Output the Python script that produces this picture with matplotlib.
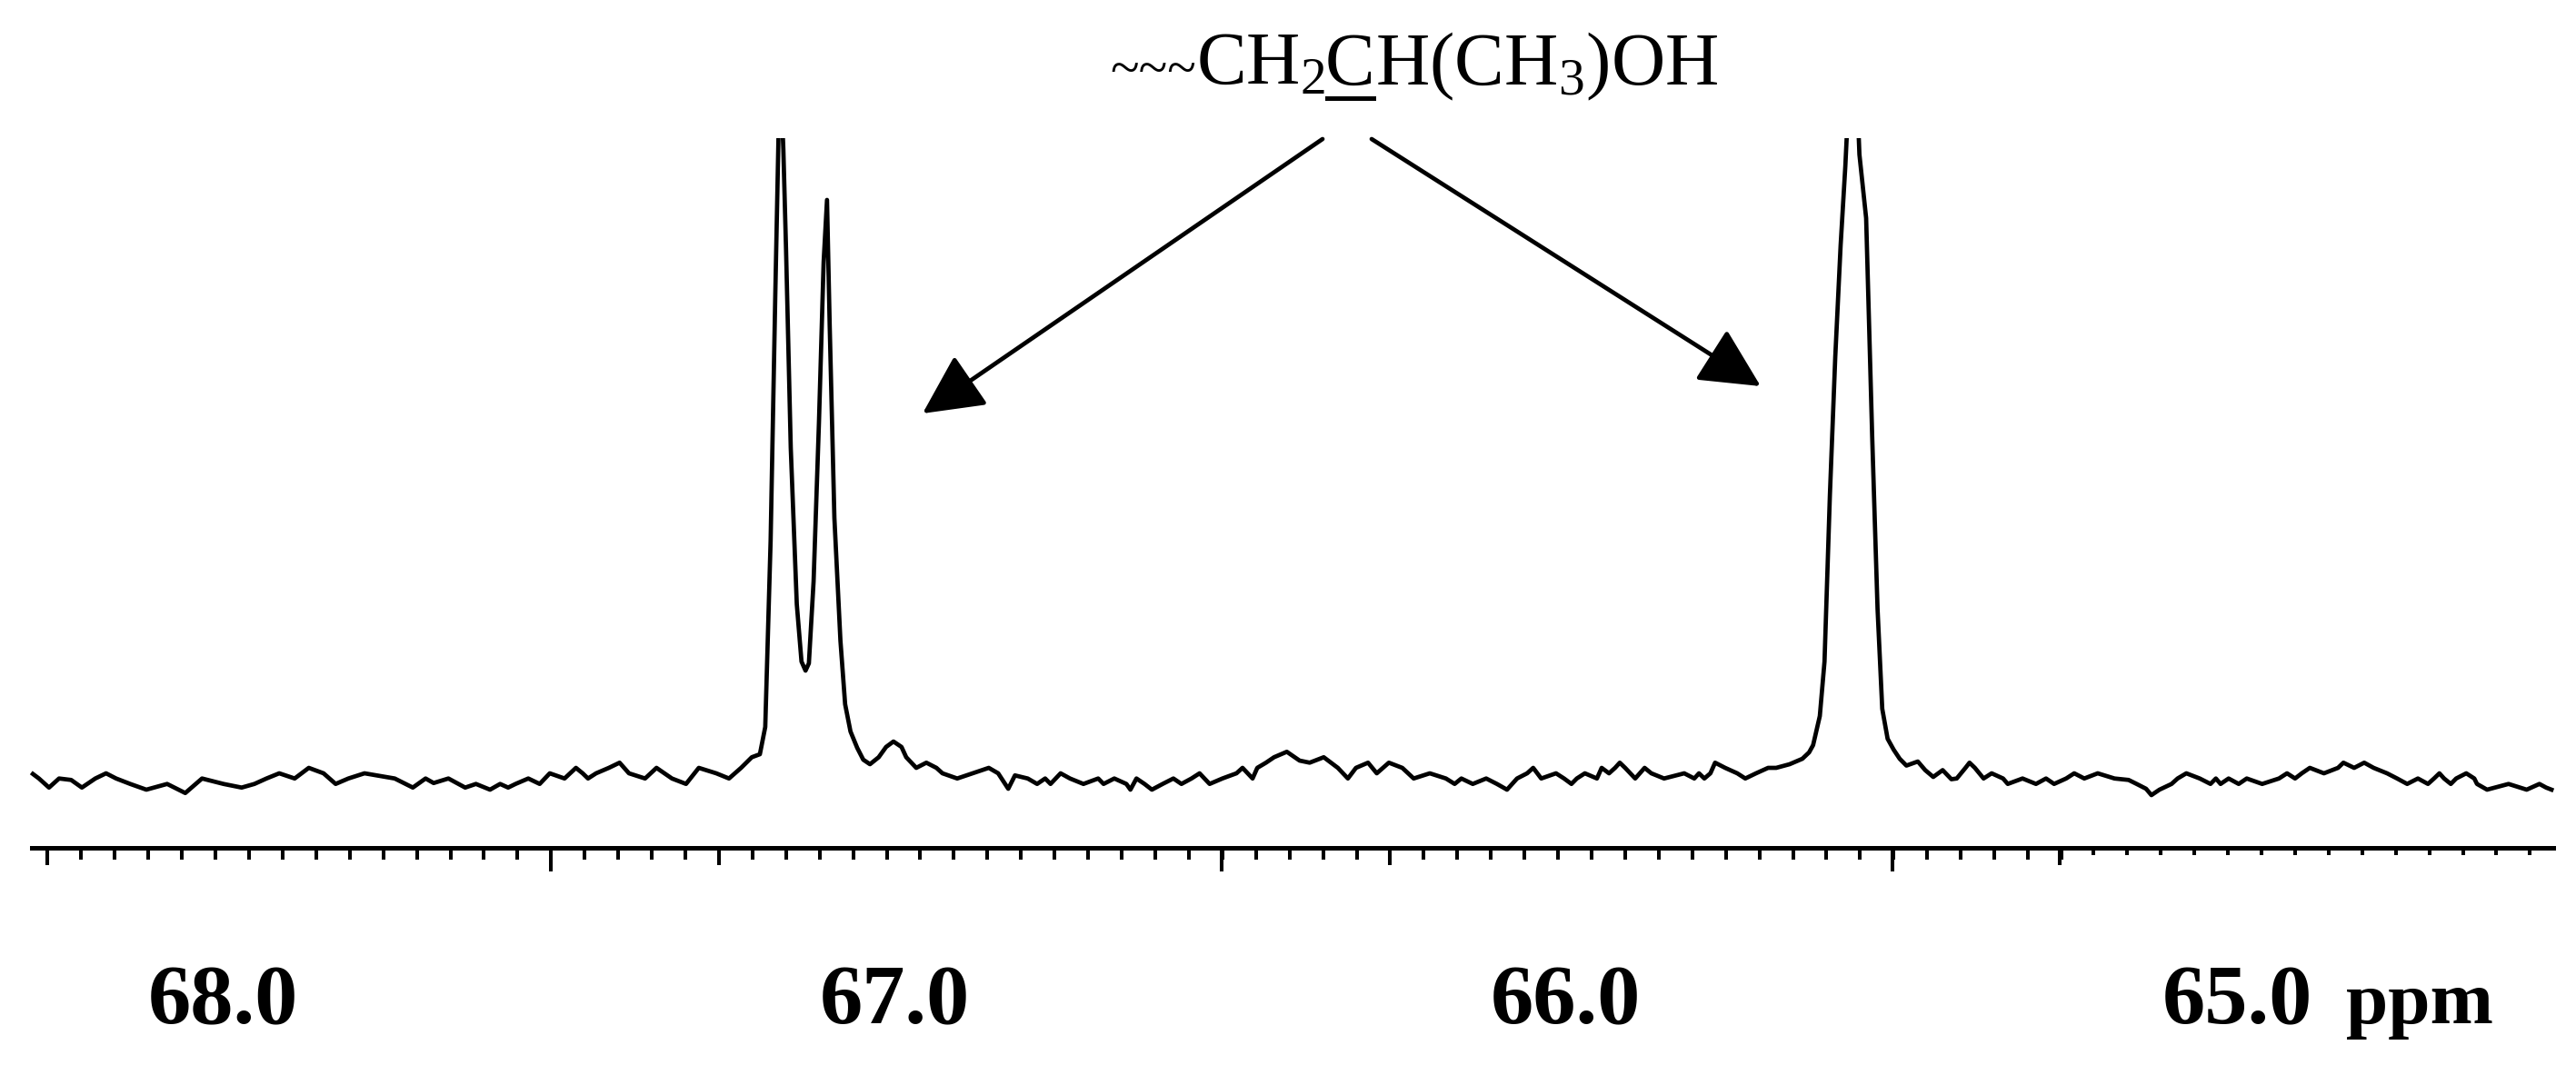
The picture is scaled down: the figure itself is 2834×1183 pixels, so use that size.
import numpy as np
import matplotlib
matplotlib.use('Agg')
import matplotlib.pyplot as plt
from matplotlib import transforms
from matplotlib.lines import Line2D

plt.rcParams['font.family'] = ['Liberation Serif', 'DejaVu Serif']
plt.rcParams['mathtext.fontset'] = 'custom'
plt.rcParams['mathtext.rm'] = 'Liberation Serif'
plt.rcParams['mathtext.it'] = 'Liberation Serif:italic'
plt.rcParams['mathtext.bf'] = 'Liberation Serif:bold'

# 13C spectrum: chemical shift (ppm) and intensity (arb. units)
shift_ppm = [
    68.284, 68.275, 68.260, 68.245, 68.227, 68.211, 68.191, 68.175, 68.160, 68.139,
    68.115, 68.084, 68.057, 68.032, 68.000, 67.973, 67.954, 67.936, 67.917, 67.894,
    67.873, 67.851, 67.833, 67.814, 67.790, 67.745, 67.718, 67.699, 67.687, 67.665,
    67.640, 67.624, 67.603, 67.588, 67.576, 67.565, 67.546, 67.529, 67.514, 67.492,
    67.475, 67.465, 67.457, 67.445, 67.426, 67.410, 67.396, 67.372, 67.355, 67.332,
    67.311, 67.292, 67.266, 67.247, 67.229, 67.213, 67.201, 67.193, 67.185, 67.178,
    67.171, 67.166, 67.162, 67.155, 67.146, 67.139, 67.133, 67.128, 67.121, 67.113,
    67.106, 67.101, 67.097, 67.090, 67.081, 67.074, 67.066, 67.056, 67.047, 67.037,
    67.024, 67.013, 67.002, 66.990, 66.983, 66.968, 66.953, 66.938, 66.929, 66.907,
    66.884, 66.860, 66.846, 66.831, 66.821, 66.802, 66.788, 66.776, 66.768, 66.753,
    66.739, 66.719, 66.697, 66.689, 66.673, 66.655, 66.649, 66.640, 66.628, 66.617,
    66.601, 66.585, 66.573, 66.558, 66.546, 66.531, 66.512, 66.491, 66.482, 66.467,
    66.460, 66.447, 66.435, 66.416, 66.397, 66.382, 66.361, 66.340, 66.325, 66.313,
    66.295, 66.282, 66.264, 66.244, 66.227, 66.203, 66.179, 66.166, 66.156, 66.139,
    66.119, 66.103, 66.088, 66.073, 66.058, 66.049, 66.037, 66.015, 66.003, 65.992,
    65.984, 65.972, 65.954, 65.947, 65.936, 65.927, 65.920, 65.912, 65.897, 65.883,
    65.873, 65.854, 65.824, 65.809, 65.802, 65.794, 65.785, 65.778, 65.763, 65.745,
    65.733, 65.717, 65.699, 65.687, 65.667, 65.648, 65.638, 65.632, 65.622, 65.615,
    65.607, 65.599, 65.591, 65.584, 65.572, 65.563, 65.553, 65.544, 65.536, 65.529,
    65.521, 65.512, 65.503, 65.493, 65.476, 65.465, 65.453, 65.439, 65.426, 65.418,
    65.405, 65.399, 65.391, 65.378, 65.366, 65.349, 65.342, 65.320, 65.300, 65.285,
    65.273, 65.255, 65.243, 65.228, 65.208, 65.183, 65.162, 65.150, 65.136, 65.128,
    65.116, 65.098, 65.089, 65.076, 65.056, 65.040, 65.032, 65.025, 65.013, 64.998,
    64.986, 64.963, 64.938, 64.926, 64.914, 64.904, 64.892, 64.871, 64.850, 64.842,
    64.826, 64.811, 64.797, 64.777, 64.762, 64.747, 64.731, 64.716, 64.707, 64.699,
    64.692, 64.682, 64.674, 64.659, 64.647, 64.643, 64.628, 64.596, 64.569, 64.550,
    64.540, 64.532,
]
intensity = [
    6.3, 1.3, -8.7, 1.3, -0.3, -8.7, 1.3, 7, 1.3, -4.7,
    -11, -4.7, -14.7, 1.3, -4.7, -8.7, -4.7, 1.3, 7, 1.3,
    13, 7, -4.7, 1.3, 7, 1.3, -8.7, 1.3, -3.7, 1.3,
    -8.7, -4.7, -11, -4.7, -8.7, -4.7, 1.3, -4.7, 7, 1.3,
    13, 7, 1.3, 7, 13, 18.7, 7, 1.3, 13, 1.3,
    -4.7, 13, 7, 1.3, 13, 24.7, 28, 58, 263, 535,
    790, 693, 583, 365, 193, 130, 120, 128, 218, 393,
    570, 638, 500, 288, 153, 83, 53, 35, 22, 17,
    24.7, 36, 42, 36, 24.7, 13, 18.7, 13, 7, 1.3,
    7, 13, 7, -10, 4.7, 1.3, -4.7, 1.3, -4.7, 7,
    1.3, -4.7, 1.3, -4.7, 1.3, -4.7, -11, 1.3, -4.7, -11,
    -4.7, 1.3, -4.7, 1.3, 7, -4.7, 1.3, 7, 13, 1.3,
    13, 18.7, 24.7, 30.7, 21, 18.7, 24.7, 13, 1.3, 13,
    18.7, 7, 18.7, 13, 1.3, 7, 1.3, -4.7, 1.3, -4.7,
    1.3, -4.7, -11, 1.3, 7, 13, 1.3, 7, 1.3, -4.7,
    1.3, 7, 1.3, 13, 7, 13, 18.7, 13, 1.3, 13,
    7, 1.3, 7, 1.3, 7, 1.3, 7, 18.7, 13, 7,
    1.3, 7, 13, 13, 17, 23, 30, 38, 70, 130,
    313, 465, 588, 675, 860, 688, 618, 378, 188, 78,
    45, 33, 23, 15.5, 20, 10.5, 3, 10.5, 0.5, 1.3,
    13, 18.7, 13, 1.3, 7, 1.3, -4.7, 1.3, -4.7, 1.3,
    -4.7, 1.3, 7, 1.3, 7, 1.3, -0.3, -4.7, -10, -17,
    -11, -4.7, 1.3, 7, 1.3, -4.7, 1.3, -4.7, 1.3, -4.7,
    1.3, -4.7, 1.3, 7, 1.3, 7, 13, 7, 13, 18.7,
    13, 18.7, 13, 7, 1.3, -4.7, 1.3, -4.7, 1.3, 7,
    1.3, -4.7, 1.3, 7, 1.3, -4.7, -11, -4.7, -11, -4.7,
    -8.7, -11,
]

# axis scale as printed
axis_labels = ['68.0', '67.0', '66.0', '65.0']
label_ppm = [68.0, 67.0, 66.0, 65.0]
long_ticks = [67.512, 66.513, 65.514]
medium_ticks = [68.262, 67.262, 66.263, 65.264]
minor_ticks = np.round(68.262 - 0.05 * np.arange(61), 3)
short_ticks = np.round(65.264 - 0.05 * np.arange(1, 15), 3)

W, H = 2834, 1183
fig = plt.figure(figsize=(W / 100, H / 100), dpi=100)
ax = fig.add_axes([0, (H - 933) / H, 1, (933 - 152) / H])

ax.plot(shift_ppm, intensity, color='black', lw=3.4)
ax.set_xlim(68.333, 64.4955)
ax.set_ylim(-75, 706)

for s in ['top', 'left', 'right']:
    ax.spines[s].set_visible(False)
ax.spines['bottom'].set_linewidth(3.6)
ax.spines['bottom'].set_bounds(68.286, 64.529)
ax.yaxis.set_visible(False)

ax.set_xticks(long_ticks)
ax.set_xticks(minor_ticks, minor=True)
ax.tick_params(axis='x', which='major', length=18.4, width=2.9, labelbottom=False)
ax.tick_params(axis='x', which='minor', length=9.7, width=2.9)

sec = ax.secondary_xaxis('bottom')
sec.spines['bottom'].set_visible(False)
sec.set_xticks(medium_ticks)
sec.tick_params(axis='x', length=14, width=2.9, labelbottom=False)

sec2 = ax.secondary_xaxis('bottom')
sec2.spines['bottom'].set_visible(False)
sec2.set_xticks(short_ticks)
sec2.tick_params(axis='x', length=6.1, width=2.9, labelbottom=False)

# printed scale numbers
trans = transforms.blended_transform_factory(ax.transData, fig.transFigure)
for p, lab in zip(label_ppm, axis_labels):
    ax.text(p, 57 / H, lab, transform=trans, ha='center', va='baseline',
            fontsize=68, fontweight='bold')
ax.text(64.838, 57 / H, 'ppm', transform=trans, ha='left', va='baseline',
        fontsize=60, fontweight='bold')

# formula with the underlined carbon
fig.canvas.draw()
renderer = fig.canvas.get_renderer()
px = transforms.IdentityTransform()
x, y = 1221, H - 93
pieces = [('~~~', 42), ('CH$_2$', 59), ('C', 59), ('H(CH$_3$)OH', 59)]
for i, (s, fs) in enumerate(pieces):
    t = fig.text(x, y, s, transform=px, fontsize=fs, va='baseline')
    bb = t.get_window_extent(renderer)
    if i == 2:
        fig.add_artist(Line2D([bb.x0 + 2, bb.x1 - 2], [y - 15, y - 15],
                              transform=px, color='black', lw=3.6))
    x = bb.x1

# arrows to both signals
head = '-|>,head_length=1.0,head_width=0.5'
for tail, tip in [((1455, H - 153), (1015, H - 455)), ((1509, H - 153), (1937, H - 425))]:
    ax.annotate('', xy=tip, xytext=tail, xycoords='figure pixels', textcoords='figure pixels',
                arrowprops=dict(arrowstyle=head, mutation_scale=41, lw=3.4, color='black',
                                shrinkA=0, shrinkB=0))

fig.savefig('out.png', dpi=100, facecolor='white')
